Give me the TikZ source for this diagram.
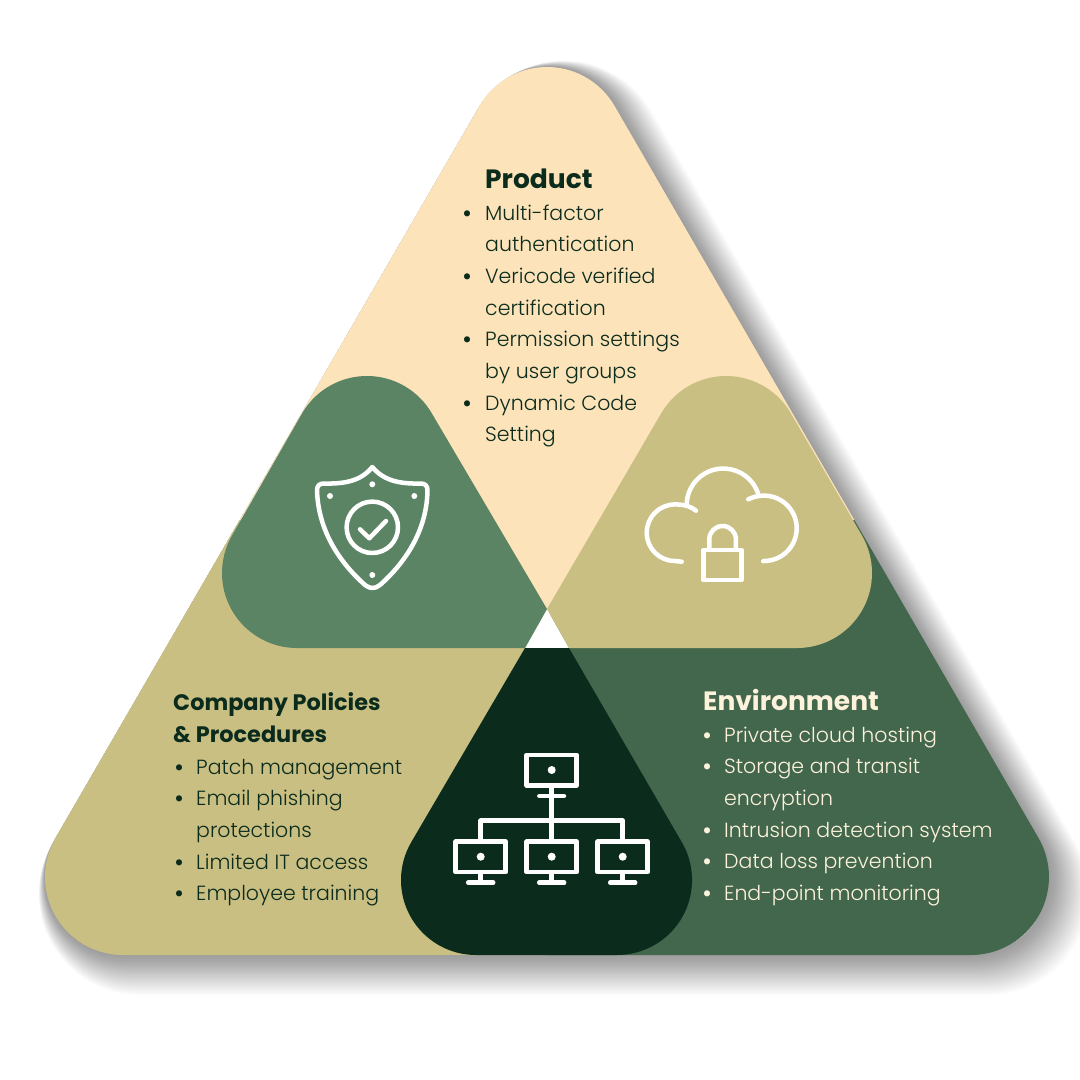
\documentclass[tikz,border=0pt]{standalone}
\usepackage{fontspec}
\setmainfont{Poppins}[UprightFont=* Light, BoldFont=* Bold]
\definecolor{creamfill}{HTML}{FCE3BA}
\definecolor{khakifill}{HTML}{CABF83}
\definecolor{leaffill}{HTML}{5A8463}
\definecolor{pinefill}{HTML}{43674C}
\definecolor{nightfill}{HTML}{0B2C1C}
\definecolor{palefont}{HTML}{FDF2DC}
\tikzset{
  iconline/.style={draw=white, line width=4.5pt, line cap=round, line join=round},
  icondot/.style={fill=white},
  headfont/.style={anchor=base west, inner sep=0pt, font=\fontsize{26.5}{26.5}\selectfont\bfseries},
  subheadfont/.style={anchor=base west, inner sep=0pt, font=\fontsize{22.4}{22.4}\selectfont\bfseries},
  listfont/.style={anchor=base west, inner sep=0pt, font=\fontsize{20.5}{20.5}\selectfont},
  dotfont/.style={anchor=base west, inner sep=0pt, font=\fontsize{20}{20}\selectfont\bfseries},
}
% big rounded triangle, corners have radius 78
\newcommand{\bigshape}{(123,955) arc (90:210:78) -- (479.5,106) arc (210:330:78) -- (1038.5,838) arc (330:450:78) -- cycle}
\begin{document}
\begin{tikzpicture}[x=1pt, y=-1pt]
    \useasboundingbox (0,0) rectangle (1080,1080);
    \fill[white] (0,0) rectangle (1080,1080);

    % Shadow
    \foreach \s in {0.5,1,...,17} {
        \draw[black, opacity=0.012, line width=\s*2.74 pt, line join=round] [shift={(\s,\s)}] \bigshape;
    }

    % Three regions
    \begin{scope}
        \clip \bigshape;
        \fill[khakifill] (0,520) rectangle (547,1080);
        \fill[pinefill] (547,520) rectangle (1080,1080);
        \fill[creamfill] (0,0) -- (1080,0) -- (1080,520) -- (700,520) -- (547,615) -- (400,520) -- (0,520) -- cycle;
    \end{scope}

    % Lobes
    \fill[white] (547,609) -- (569,648) -- (525,648) -- cycle;
    \fill[leaffill] (297,648) arc (90:210:75) -- (302,413.5) arc (210:330:75) -- (547,609) -- (525,648) -- cycle;
    \fill[khakifill] (797,648) arc (90:-30:75) -- (791,413.5) arc (-30:-150:75) -- (547,609) -- (569,648) -- cycle;
    \fill[nightfill] (476,955) arc (90:210:75) -- (525,648) -- (569,648) -- (682,842.5) arc (-30:90:75) -- cycle;

    % Shield
    \draw[iconline] (372.3,467) .. controls (384,481) and (400,484) .. (421,483.5) .. controls (425,483.5) and (427.5,486) .. (427.5,490)
        .. controls (427,528) and (408,560) .. (380,585) .. controls (375,589) and (370,589) .. (365,585)
        .. controls (337,560) and (318,528) .. (317,490) .. controls (317,486) and (319.5,483.5) .. (323.5,483.5)
        .. controls (345,484) and (361,481) .. cycle;
    \draw[iconline] (372.3,527.3) circle (25.7);
    \draw[iconline] (360,529.3) -- (369.3,538.3) -- (386,521);
    \foreach \x/\y in {372.3/484.3, 330/496, 414.3/496, 372.3/575} {
        \fill[icondot] (\x,\y) circle (3);
    }

    % Cloud with lock
    \draw[iconline] (681.7,561.7) -- (675,561) arc (90:270:28.3) .. controls (685,504.4) and (692,507) .. (696,510.7);
    \draw[iconline] (686.7,503.3) arc (183:342:36.7);
    \draw[iconline] (748.3,499.3) .. controls (753,497) and (758,495.6) .. (764,495.6) arc (270:450:32.7) -- (763.3,561.3);
    \draw[iconline] (703.3,550) rectangle (741.7,580);
    \draw[iconline] (709.3,550) -- (709.3,539.3) arc (180:360:13.3) -- (736,550);

    % Network
    \foreach \x/\y in {526.7/755, 455.7/841.7, 526.7/841.7, 597.7/841.7} {
        \draw[iconline, line cap=butt] (\x,\y) rectangle ++(50,30.5);
        \fill[icondot] (\x+25,\y+15) circle (4);
    }
    \foreach \x in {480.7, 551.7, 622.7} {
        \draw[iconline, line cap=butt] (\x,872.2) -- (\x,882.7);
        \draw[iconline] (\x-12.5,882.7) -- (\x+12.5,882.7);
    }
    \draw[iconline, line cap=butt] (551.7,785.5) -- (551.7,841.7);
    \draw[iconline] (539.3,796) -- (564,796);
    \draw[iconline, line cap=butt] (480.7,841.7) -- (480.7,820.7) -- (622.7,820.7) -- (622.7,841.7);

    % Product
    \node[headfont, text=nightfill] (producthead) at (485,188) {Product};
    \foreach \n/\y/\t in {1/220/Multi-factor, 2/251/authentication, 3/283/Vericode verified, 4/315/certification, 5/346/Permission settings, 6/378/by user groups, 7/410/Dynamic Code, 8/441/Setting} {
        \node[listfont, text=nightfill] (product\n) at (485,\y) {\t};
    }
    \foreach \n/\y in {1/220, 3/283, 5/346, 7/410} {
        \node[dotfont, text=nightfill] (productdot\n) at (462,\y) {•};
    }

    % Company Policies
    \node[subheadfont, text=nightfill] (companyhead) at (173,710) {Company Policies};
    \node[subheadfont, text=nightfill] (companyheadb) at (173,742) {\& Procedures};
    \foreach \n/\y/\t in {1/774/Patch management, 2/805/Email phishing, 3/837/protections, 4/869/Limited IT access, 5/900/Employee training} {
        \node[listfont, text=nightfill] (company\n) at (196,\y) {\t};
    }
    \foreach \n/\y in {1/774, 2/805, 4/869, 5/900} {
        \node[dotfont, text=nightfill] (companydot\n) at (174,\y) {•};
    }

    % Environment
    \node[headfont, text=palefont] (envhead) at (703,710) {Environment};
    \foreach \n/\y/\t in {1/742/Private cloud hosting, 2/773/Storage and transit, 3/805/encryption, 4/837/Intrusion detection system, 5/868/Data loss prevention, 6/900/End-point monitoring} {
        \node[listfont, text=palefont] (env\n) at (724,\y) {\t};
    }
    \foreach \n/\y in {1/742, 2/773, 4/837, 5/868, 6/900} {
        \node[dotfont, text=palefont] (envdot\n) at (702,\y) {•};
    }
\end{tikzpicture}
\end{document}
